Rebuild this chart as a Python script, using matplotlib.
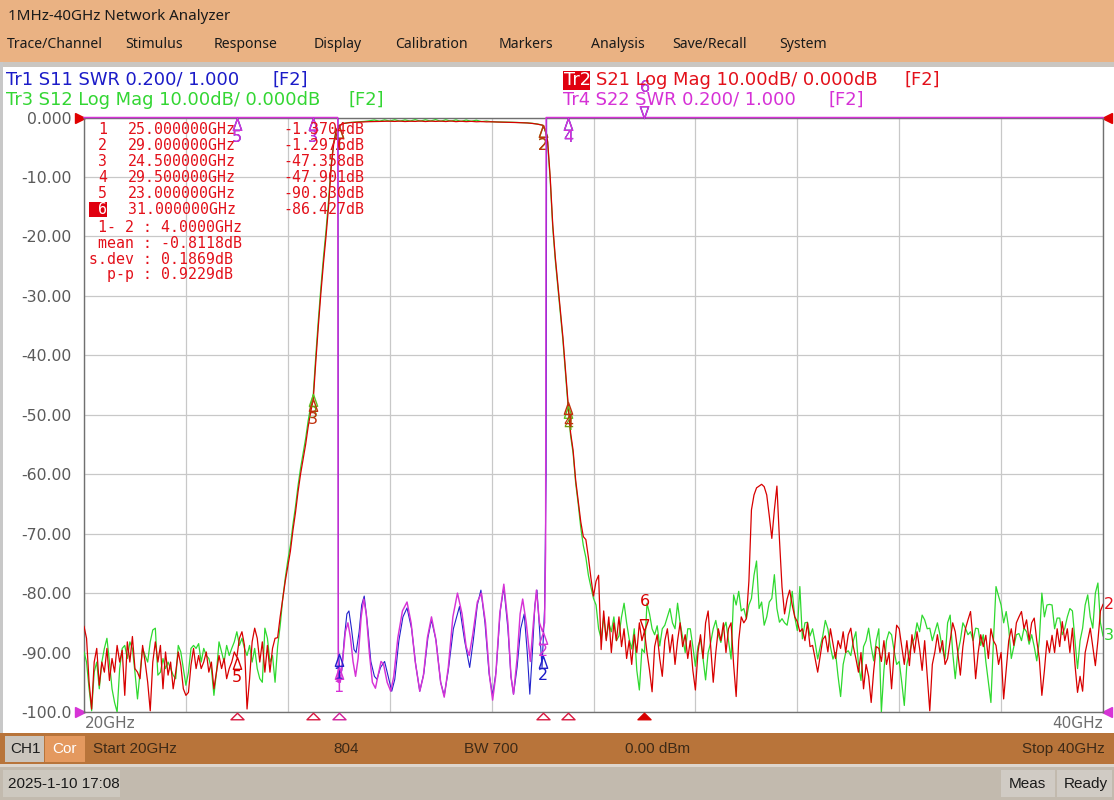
import numpy as np
import matplotlib
matplotlib.use("Agg")
import matplotlib.pyplot as plt
from matplotlib.patches import Rectangle
from matplotlib.path import Path
import matplotlib.transforms as mtransforms

W, H = 1114, 800

# ---------------------------------------------------------------- data
# Tr2 S21 (red) and Tr3 S12 (green), dB, read from the screen
seg_bounds = [(20.0, 23.75), (23.80, 24.95), (25.0, 29.0), (29.05, 29.95), (30.0, 40.0)]

s21_lo = [-85.6, -87.6, -95.0, -99.5, -91.6, -89.3, -95.5, -91.6, -93.3, -89.3,
          -94.7, -91.0, -93.3, -88.8, -91.6, -89.6, -97.2, -88.2, -91.6, -87.3,
          -92.7, -93.3, -94.4, -88.8, -91.6, -95.0, -99.8, -91.6, -88.2, -91.6,
          -88.8, -96.1, -89.9, -93.8, -91.6, -96.1, -93.3, -89.9, -92.1, -96.1,
          -97.2, -96.7, -92.1, -89.3, -92.7, -90.5, -92.7, -91.6, -89.9, -93.3,
          -91.6, -96.1, -93.3, -90.5, -92.7, -91.0, -94.4, -92.7, -91.6, -89.9,
          -90.8, -87.6, -86.5, -88.8, -99.5, -94.4, -88.2, -85.9, -87.6, -91.6,
          -88.2, -93.3, -88.8, -93.3, -89.3, -87.6]
s12_lo = [-89.9, -91.6, -96.1, -99.8, -93.3, -91.6, -96.1, -91.6, -89.3, -87.6,
          -91.6, -96.1, -98.4, -100.0, -92.7, -89.3, -88.8, -91.0, -88.2, -89.3,
          -93.3, -97.8, -93.3, -89.3, -90.5, -91.6, -88.2, -86.2, -85.9, -93.8,
          -93.3, -91.0, -92.7, -91.6, -92.7, -93.8, -94.4, -88.8, -89.9, -92.7,
          -95.5, -93.3, -89.3, -88.8, -89.3, -88.5, -91.6, -89.3, -90.5, -91.0,
          -92.7, -97.2, -93.3, -88.2, -89.9, -91.6, -88.8, -90.5, -89.3, -88.2,
          -86.5, -88.8, -87.6, -89.3, -90.5, -88.8, -91.6, -89.3, -92.7, -94.4,
          -95.0, -85.9, -87.6, -91.6, -90.5, -95.0]

s21_skirt_lo = [-87.5, -84.0, -81.0, -78.0, -75.5, -73.0, -69.5, -66.5, -63.0, -60.0,
                -57.5, -55.0, -52.0, -49.5, -47.4, -41.0, -35.0, -29.5, -24.5, -20.0,
                -15.0, -8.5, -4.5, -2.2]
s12_skirt_lo = [-89.0, -85.5, -81.0, -77.5, -74.5, -72.0, -68.5, -65.5, -62.0, -59.0,
                -56.5, -54.0, -51.0, -48.5, -46.5, -40.0, -34.0, -28.5, -23.5, -19.0,
                -14.0, -8.0, -4.2, -2.1]

s21_pass = [-1.37, -1.00, -0.88, -0.82, -0.78, -0.74, -0.70, -0.68, -0.66, -0.65,
            -0.62, -0.66, -0.60, -0.68, -0.62, -0.66, -0.58, -0.68, -0.60, -0.66,
            -0.60, -0.68, -0.58, -0.70, -0.62, -0.70, -0.64, -0.72, -0.68, -0.74,
            -0.72, -0.76, -0.78, -0.80, -0.82, -0.85, -0.88, -0.92, -1.00, -1.12,
            -1.30]
s12_pass = [-1.35, -0.98, -0.85, -0.78, -0.72, -0.66, -0.55, -0.42, -0.62, -0.40,
            -0.60, -0.38, -0.62, -0.40, -0.60, -0.36, -0.62, -0.38, -0.60, -0.35,
            -0.64, -0.38, -0.62, -0.40, -0.66, -0.42, -0.64, -0.45, -0.68, -0.60,
            -0.72, -0.74, -0.76, -0.78, -0.80, -0.84, -0.87, -0.90, -0.98, -1.10,
            -1.28]

s21_skirt_hi = [-2.0, -4.0, -10.0, -18.0, -23.5, -28.0, -32.5, -37.0, -42.5, -47.9,
                -53.0, -56.0, -61.0, -64.5, -68.0, -70.5, -71.0, -74.0, -77.5]
s12_skirt_hi = [-2.1, -4.2, -10.5, -18.5, -24.0, -28.5, -33.0, -37.5, -43.0, -48.5,
                -53.5, -56.5, -61.5, -65.0, -69.0, -72.0, -74.0, -77.0, -79.0]

s21_hi = [-80.5, -78.0, -77.0, -89.5, -83.0, -88.0, -84.0, -90.0, -85.0, -88.0,
          -84.0, -89.0, -86.0, -91.0, -88.0, -92.0, -87.0, -90.0, -85.0, -88.0,
          -86.4, -90.0, -93.0, -96.6, -89.0, -87.0, -91.0, -94.0, -88.0, -86.0,
          -90.0, -87.0, -92.0, -88.0, -85.0, -89.0, -87.0, -91.0, -88.0, -93.0,
          -96.3, -90.0, -87.0, -91.0, -85.0, -83.0, -89.0, -95.0, -90.0, -86.0,
          -88.0, -85.0, -90.0, -86.0, -85.0, -92.0, -97.4, -88.0, -84.0, -85.0,
          -84.3, -78.0, -66.0, -63.5, -62.3, -62.0, -61.7, -62.1, -63.5, -67.0,
          -70.8, -66.0, -62.0, -71.0, -79.0, -83.5, -81.0, -79.5, -82.0, -84.0,
          -84.8, -86.5, -86.0, -88.0, -85.0, -89.0, -88.8, -91.0, -93.3, -90.5,
          -87.8, -87.2, -89.9, -86.0, -88.5, -91.0, -88.0, -89.3, -86.5, -90.0,
          -87.0, -85.9, -89.0, -91.0, -93.3, -90.0, -96.1, -92.0, -94.0, -98.4,
          -93.0, -89.0, -89.3, -91.5, -88.0, -92.0, -90.0, -96.1, -90.0, -85.4,
          -86.0, -89.0, -92.0, -88.0, -92.2, -87.0, -90.0, -86.5, -89.3, -93.0,
          -88.0, -94.0, -99.8, -92.0, -89.9, -87.0, -90.0, -88.0, -92.0, -91.0,
          -88.0, -85.0, -86.5, -90.0, -93.8, -89.0, -86.0, -84.5, -83.1, -88.0,
          -94.4, -90.0, -87.0, -89.0, -87.1, -91.0, -86.0, -88.0, -88.8, -92.0,
          -90.0, -97.8, -93.0, -88.0, -86.0, -88.8, -85.0, -84.0, -83.1, -86.0,
          -84.5, -88.0, -85.0, -84.2, -88.0, -91.0, -97.2, -93.0, -88.0, -90.0,
          -87.1, -90.0, -86.0, -89.0, -84.8, -88.0, -86.0, -90.0, -85.9, -92.0,
          -96.7, -94.0, -96.5, -90.0, -88.0, -85.9, -89.0, -92.2, -88.0, -83.0,
          -81.9]
s12_hi = [-80.9, -82.0, -86.0, -87.7, -84.0, -87.7, -85.0, -86.5, -84.0, -88.0,
          -87.2, -84.0, -81.7, -85.0, -87.7, -89.4, -86.0, -93.0, -96.3, -89.4,
          -90.0, -81.7, -83.5, -86.0, -87.0, -85.5, -88.9, -86.0, -85.4, -84.0,
          -82.6, -85.0, -86.0, -81.7, -85.0, -87.5, -90.0, -86.0, -86.0, -89.0,
          -92.3, -89.0, -87.7, -91.0, -94.6, -90.0, -88.3, -86.0, -84.6, -87.0,
          -88.3, -86.0, -84.9, -88.0, -91.1, -80.3, -82.0, -79.7, -83.0, -82.6,
          -84.3, -82.0, -80.9, -77.0, -74.6, -82.6, -81.5, -85.4, -84.0, -81.5,
          -80.9, -76.9, -82.6, -84.9, -84.3, -85.0, -85.4, -83.0, -79.7, -84.0,
          -86.3, -78.9, -87.7, -85.0, -84.9, -87.2, -86.0, -88.3, -91.1, -89.0,
          -87.2, -84.6, -86.0, -89.0, -91.1, -90.0, -94.0, -97.4, -92.0, -90.0,
          -89.7, -90.5, -88.0, -86.5, -92.0, -94.7, -89.0, -88.0, -85.9, -89.0,
          -91.4, -88.0, -86.0, -100.0, -93.0, -88.0, -86.5, -87.0, -89.7, -92.0,
          -91.5, -95.0, -98.9, -92.0, -90.0, -88.5, -87.6, -85.0, -86.5, -83.7,
          -84.5, -86.0, -85.9, -88.0, -86.5, -85.0, -87.0, -89.5, -91.0, -85.0,
          -83.7, -90.0, -94.4, -90.0, -88.0, -85.0, -85.9, -87.0, -86.5, -88.0,
          -85.9, -86.0, -88.8, -87.0, -91.5, -95.0, -98.4, -88.0, -78.9, -80.5,
          -82.0, -85.0, -83.1, -86.0, -91.0, -89.0, -87.0, -86.8, -88.0, -85.9,
          -86.5, -88.6, -87.0, -89.0, -91.4, -88.0, -80.0, -84.0, -82.0, -81.9,
          -82.0, -86.0, -84.2, -84.2, -87.0, -85.9, -84.0, -82.6, -83.0, -88.0,
          -92.7, -88.0, -85.9, -82.0, -80.3, -84.0, -85.9, -80.0, -78.3, -85.0,
          -87.2]

# Tr1 S11 / Tr4 S22 SWR (8.0 = off screen, above the top of the 1.0..3.0 scale)
s11_freq = [20.0, 24.985, 24.995, 25.02, 25.06, 25.11, 25.16, 25.20, 25.25, 25.30,
            25.34, 25.40, 25.45, 25.50, 25.56, 25.63, 25.70, 25.75, 25.82, 25.90,
            25.97, 26.04, 26.10, 26.18, 26.26, 26.34, 26.43, 26.51, 26.59, 26.67,
            26.75, 26.82, 26.91, 27.00, 27.07, 27.15, 27.25, 27.37, 27.47, 27.57,
            27.64, 27.72, 27.79, 27.87, 27.95, 28.02, 28.09, 28.17, 28.24, 28.32,
            28.38, 28.43, 28.50, 28.57, 28.64, 28.70, 28.75, 28.80, 28.85, 28.89,
            28.94, 28.99, 29.04, 29.07, 29.08, 40.0]
s11_swr = [8.0, 8.0, 1.21, 1.13, 1.14, 1.25, 1.33, 1.34, 1.28, 1.21,
           1.20, 1.27, 1.36, 1.39, 1.30, 1.17, 1.12, 1.11, 1.15, 1.17,
           1.12, 1.07, 1.11, 1.24, 1.32, 1.35, 1.28, 1.16, 1.07, 1.13,
           1.25, 1.31, 1.24, 1.10, 1.055, 1.14, 1.28, 1.355, 1.24, 1.15,
           1.24, 1.36, 1.41, 1.30, 1.13, 1.055, 1.14, 1.34, 1.42, 1.28,
           1.12, 1.06, 1.15, 1.28, 1.33, 1.20, 1.06, 1.20, 1.36, 1.41,
           1.28, 1.15, 1.35, 1.80, 8.0, 8.0]
s22_freq = [20.0, 24.98, 24.99, 25.0, 25.03, 25.08, 25.13, 25.18, 25.23, 25.28,
            25.33, 25.38, 25.44, 25.49, 25.54, 25.60, 25.66, 25.72, 25.78, 25.83,
            25.88, 25.95, 26.02, 26.08, 26.16, 26.25, 26.34, 26.42, 26.50, 26.59,
            26.66, 26.74, 26.82, 26.90, 27.00, 27.07, 27.15, 27.24, 27.33, 27.42,
            27.50, 27.56, 27.63, 27.72, 27.80, 27.88, 27.96, 28.02, 28.08, 28.16,
            28.24, 28.32, 28.38, 28.43, 28.50, 28.56, 28.61, 28.68, 28.76, 28.82,
            28.88, 28.94, 29.0, 29.04, 29.06, 29.07, 40.0]
s22_swr = [8.0, 8.0, 1.10, 1.15, 1.10, 1.18, 1.27, 1.30, 1.25, 1.17,
           1.12, 1.18, 1.32, 1.38, 1.33, 1.20, 1.10, 1.08, 1.13, 1.17,
           1.16, 1.10, 1.07, 1.12, 1.25, 1.34, 1.37, 1.30, 1.17, 1.07,
           1.12, 1.25, 1.32, 1.25, 1.10, 1.05, 1.15, 1.32, 1.40, 1.33,
           1.22, 1.19, 1.26, 1.37, 1.40, 1.30, 1.12, 1.04, 1.12, 1.33,
           1.43, 1.30, 1.12, 1.06, 1.18, 1.33, 1.38, 1.30, 1.17, 1.30,
           1.41, 1.30, 1.27, 1.30, 1.55, 8.0, 8.0]

marker_freq = [25.0, 29.0, 24.5, 29.5, 23.0, 31.0]
marker_names = ["1", "2", "3", "4", "5", "6"]
marker_freq_txt = ["25.000000GHz", "29.000000GHz", "24.500000GHz",
                   "29.500000GHz", "23.000000GHz", "31.000000GHz"]
marker_val_txt = ["-1.3704dB", "-1.2976dB", "-47.358dB", "-47.901dB", "-90.830dB", "-86.427dB"]
stats_txt = [" 1- 2 : 4.0000GHz", " mean : -0.8118dB", "s.dev : 0.1869dB", "  p-p : 0.9229dB"]

y_ticks = list(range(-100, 1, 10))
y_tick_labels = ["-100.0", "-90.00", "-80.00", "-70.00", "-60.00", "-50.00",
                 "-40.00", "-30.00", "-20.00", "-10.00", "0.000"]

menu_items = [("Trace/Channel", 7), ("Stimulus", 125), ("Response", 214), ("Display", 314),
              ("Calibration", 395), ("Markers", 499), ("Analysis", 591),
              ("Save/Recall", 672), ("System", 779)]

# ---------------------------------------------------------------- colours
C_RED, C_GRN, C_BLU, C_MAG = "#D80000", "#2FD92F", "#2222CC", "#D633D6"
T_RED, T_GRN, T_BLU, T_MAG = "#E3101A", "#33D633", "#1B1BC8", "#D631D6"


def build(parts):
    f = np.concatenate([np.linspace(a, b, len(p)) for (a, b), p in zip(seg_bounds, parts)])
    v = np.concatenate([np.asarray(p, float) for p in parts])
    return f, v


f21, v21 = build([s21_lo, s21_skirt_lo, s21_pass, s21_skirt_hi, s21_hi])
f12, v12 = build([s12_lo, s12_skirt_lo, s12_pass, s12_skirt_hi, s12_hi])

fig = plt.figure(figsize=(W / 100, H / 100), dpi=100)


def R(x, y, w, h, c, z=-5):
    fig.add_artist(Rectangle((x / W, 1 - (y + h) / H), w / W, h / H, transform=fig.transFigure,
                             fc=c, ec="none", zorder=z))


def T(x, y, s, **kw):
    kw.setdefault("va", "center")
    return fig.text(x / W, 1 - y / H, s, **kw)


# backgrounds
R(0, 0, W, 62, "#EAB283")
R(0, 62, W, 5, "#CAC6C1")
R(0, 67, W, 667, "white")
R(0, 62, 3, 672, "#C8C8C8")
R(0, 733, W, 31, "#B8743A")
R(0, 764, W, 3, "#DDD6CE")
R(0, 767, W, 33, "#C2BAAE")
R(5, 736, 39, 26, "#CBC5BD")
R(45, 736, 40, 26, "#E4995F")
R(3, 770, 117, 27, "#CDC8BF")
R(1001, 770, 54, 27, "#D0CBC4")
R(1057, 770, 55, 27, "#D0CBC4")

# title / menu
T(8, 16, "1MHz-40GHz Network Analyzer", family="Noto Sans", fontsize=10.9, color="#1A1A1A")
for name, x in menu_items:
    T(x, 44, name, family="Noto Sans", fontsize=10.1, color="#1A1A1A")

# trace legends
LG = 12.9
T(6, 80, "Tr1 S11 SWR 0.200/ 1.000", color=T_BLU, fontsize=LG)
T(272, 80, "[F2]", color=T_BLU, fontsize=LG)
T(6, 100, "Tr3 S12 Log Mag 10.00dB/ 0.000dB", color=T_GRN, fontsize=LG)
T(348, 100, "[F2]", color=T_GRN, fontsize=LG)
R(563, 71, 27, 19, "#E00010", z=1)
T(564, 80, "Tr2", color="white", fontsize=LG)
T(596, 80, "S21 Log Mag 10.00dB/ 0.000dB", color=T_RED, fontsize=LG)
T(904, 80, "[F2]", color=T_RED, fontsize=LG)
T(563, 100, "Tr4 S22 SWR 0.200/ 1.000", color=T_MAG, fontsize=LG)
T(829, 100, "[F2]", color=T_MAG, fontsize=LG)

# ---------------------------------------------------------------- axes
ax = fig.add_axes([84 / W, 1 - 712 / H, 1019 / W, 594.5 / H])
ax.set_facecolor("none")
ax.plot(f12, v12, color=C_GRN, lw=0.9, zorder=3)
ax.plot(f21, v21, color=C_RED, lw=0.9, zorder=4)
ax.set_xticks(np.arange(20, 41, 2))
ax.set_yticks(y_ticks)
ax.set_yticklabels(y_tick_labels)
ax.tick_params(length=0, labelbottom=False, labelsize=11.3, labelcolor="#5A5A5A", pad=9)
ax.grid(True, color="#C8C8C8", lw=0.9)
ax.set_axisbelow(True)
for s in ax.spines.values():
    s.set_color("#707070")
    s.set_linewidth(1.0)

ax2 = ax.twinx()
ax2.set_ylim(1.0, 3.0)
ax2.set_axis_off()
top = ax2.get_ylim()[1]
ax2.plot(s11_freq, np.minimum(s11_swr, top), color=C_BLU, lw=0.8, clip_on=True, zorder=3)
ax2.plot(s22_freq, np.minimum(s22_swr, top), color=C_MAG, lw=1.05, clip_on=False, zorder=4)

TRI_UP = Path([(0, 0), (-0.7, -2), (0.7, -2), (0, 0)],
              [Path.MOVETO, Path.LINETO, Path.LINETO, Path.CLOSEPOLY])
TRI_DN = Path([(0, 0), (-0.7, 2), (0.7, 2), (0, 0)],
              [Path.MOVETO, Path.LINETO, Path.LINETO, Path.CLOSEPOLY])
STIM = Path([(0, 0.5), (-1, -0.5), (1, -0.5), (0, 0.5)],
            [Path.MOVETO, Path.LINETO, Path.LINETO, Path.CLOSEPOLY])


def mark(axis, f, v, color, label, active=False, lcolor=None, z=6):
    axis.plot([f], [v], ls="none", marker=TRI_DN if active else TRI_UP, ms=17,
              mfc="none", mec=color, mew=1.0, clip_on=False, zorder=z)
    dy = 30 if active else -20
    axis.annotate(label, (f, v), xytext=(0, dy * 0.72), textcoords="offset points",
                  ha="center", va="center", color=lcolor or color, fontsize=11.5,
                  annotation_clip=False, zorder=z)


# markers on S12 (under red), S21
for f, n in zip(marker_freq[:4], marker_names[:4]):
    mark(ax, f, np.interp(f, f12, v12), "#5CC020", n, lcolor="#6A9A10", z=5)
for i, (f, n) in enumerate(zip(marker_freq, marker_names)):
    col = "#C0300C" if i < 4 else C_RED
    mark(ax, f, np.interp(f, f21, v21), col, n, active=(i == 5), lcolor=col, z=6)

# markers on S11 / S22 (clipped at the top of the SWR scale)
for i, (f, n) in enumerate(zip(marker_freq, marker_names)):
    v = min(np.interp(f, s11_freq, s11_swr), top)
    mark(ax2, f, v, C_BLU, n, active=(i == 5), lcolor=T_BLU, z=6)
for i, (f, n) in enumerate(zip(marker_freq, marker_names)):
    v = min(np.interp(f, s22_freq, s22_swr), top)
    mark(ax2, f, v, C_MAG, n, active=(i == 5), lcolor=T_MAG, z=7)

# stimulus markers under the axis
trans = mtransforms.blended_transform_factory(ax.transData, ax.transAxes)
for i, f in enumerate(marker_freq):
    col = "#D0209A" if i == 0 else "#D81840"
    ax.plot([f], [-0.006], transform=trans, ls="none", marker=STIM, ms=9.4,
            mfc=(C_RED if i == 5 else "none"), mec=(C_RED if i == 5 else col), mew=1.0,
            clip_on=False, zorder=6)

# reference position arrows
ax.plot([-0.0035], [1.0], transform=ax.transAxes, marker=">", ms=7, color="#E00000", clip_on=False)
ax.plot([-0.0035], [0.0], transform=ax.transAxes, marker=">", ms=7, color=C_MAG, clip_on=False)
ax.plot([1.0035], [1.0], transform=ax.transAxes, marker="<", ms=7, color="#E00000", clip_on=False)
ax.plot([1.0035], [0.0], transform=ax.transAxes, marker="<", ms=7, color=C_MAG, clip_on=False)

# trace end labels
ax.annotate("2", (40, v21[-1]), xytext=(0.5, 0), textcoords="offset points", ha="left", va="center",
            color=T_RED, fontsize=11.5, annotation_clip=False)
ax.annotate("3", (40, v12[-1]), xytext=(0.5, 0), textcoords="offset points", ha="left", va="center",
            color=T_GRN, fontsize=11.5, annotation_clip=False)

ax.set_xlim(20, 40)
ax.set_ylim(-100, 0)
ax2.set_xlim(20, 40)
ax2.set_ylim(1.0, 3.0)

# frequency labels
T(85, 724, "20GHz", color="#6E6E6E", fontsize=11)
T(1103, 724, "40GHz", color="#6E6E6E", fontsize=11, ha="right")

# marker readout table
rows_y = [129, 145, 161, 177, 193, 209]
R(89, 202, 18, 15, "#E00010", z=1)
for i, y in enumerate(rows_y):
    T(98, y, marker_names[i], family="DejaVu Sans Mono", fontsize=10.7,
      color=("white" if i == 5 else T_RED))
    T(128, y, marker_freq_txt[i], family="DejaVu Sans Mono", fontsize=10.7, color=T_RED)
    T(283, y, marker_val_txt[i], family="DejaVu Sans Mono", fontsize=10.7, color=T_RED)
for s, y in zip(stats_txt, [228, 244, 259, 274]):
    T(89, y, s, family="DejaVu Sans Mono", fontsize=10.7, color=T_RED)

# status bars
SB = dict(family="Liberation Sans", fontsize=11, color="#3D2A17")
T(10, 749, "CH1", family="Liberation Sans", fontsize=11, color="#1E1E1E")
T(52, 749, "Cor", family="Liberation Sans", fontsize=11, color="white")
T(93, 749, "Start 20GHz", **SB)
T(333, 749, "804", **SB)
T(464, 749, "BW 700", **SB)
T(625, 749, "0.00 dBm", **SB)
T(1105, 749, "Stop 40GHz", ha="right", **SB)
T(8, 784, "2025-1-10 17:08", family="Liberation Sans", fontsize=11, color="#1A1A1A")
T(1009, 784, "Meas", family="Liberation Sans", fontsize=11, color="#1A1A1A")
T(1064, 784, "Ready", family="Liberation Sans", fontsize=11, color="#1A1A1A")

fig.savefig("out.png", dpi=100)
